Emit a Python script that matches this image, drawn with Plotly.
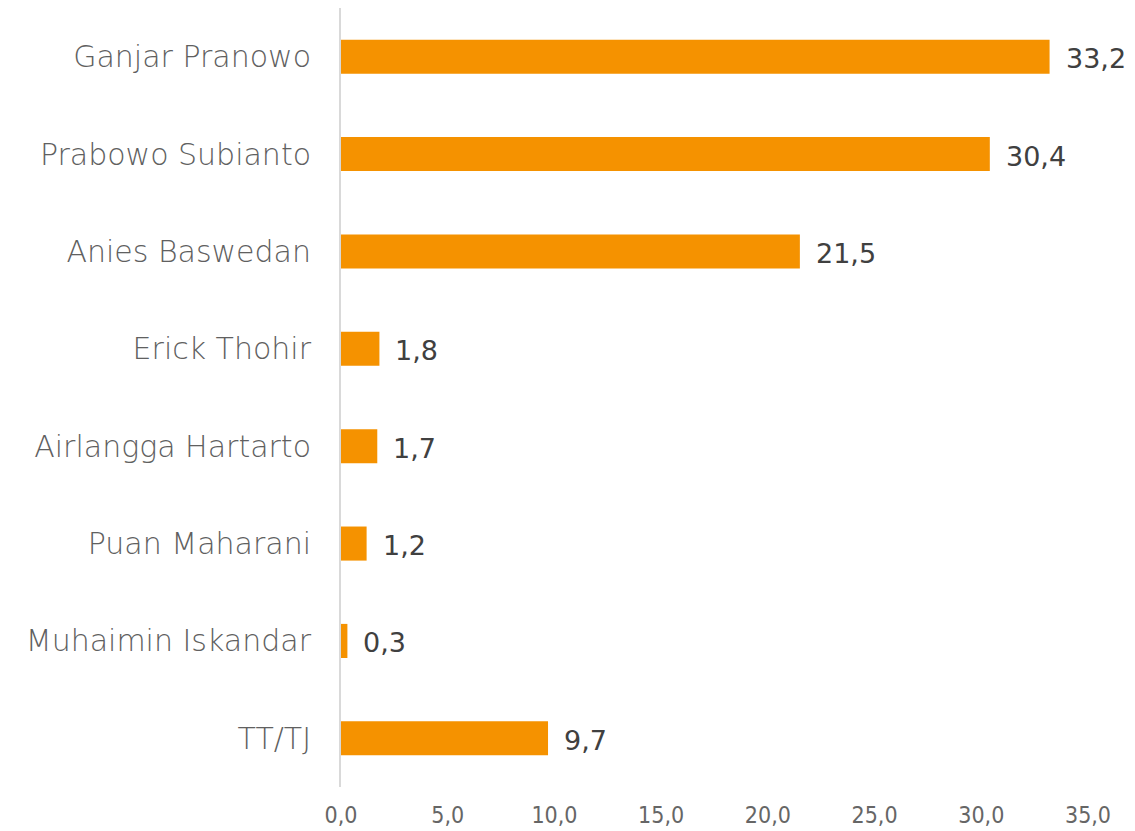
import plotly.graph_objects as go

# Survey result per candidate (percent)
candidates = [
    "Ganjar Pranowo",
    "Prabowo Subianto",
    "Anies Baswedan",
    "Erick Thohir",
    "Airlangga Hartarto",
    "Puan Maharani",
    "Muhaimin Iskandar",
    "TT/TJ",
]
values = [33.2, 30.4, 21.5, 1.8, 1.7, 1.2, 0.3, 9.7]
x_ticks = [0, 5, 10, 15, 20, 25, 30, 35]

BAR_COLOR = "#F59200"
LABEL_FONT = "'DejaVu Sans', Lato, sans-serif"

fig = go.Figure(
    go.Bar(
        x=values,
        y=candidates,
        orientation="h",
        width=0.35,
        marker=dict(color=BAR_COLOR, line=dict(width=0)),
        hoverinfo="skip",
    )
)

# value labels to the right of each bar
for name, v in zip(candidates, values):
    fig.add_annotation(
        x=v,
        y=name,
        text=f"{v:.1f}".replace(".", ","),
        showarrow=False,
        xanchor="left",
        yanchor="middle",
        xshift=14,
        yshift=-2,
        font=dict(family=LABEL_FONT, size=27, color="#404040"),
    )

fig.update_layout(
    width=1135,
    height=831,
    margin=dict(l=341, r=47, t=8, b=44),
    paper_bgcolor="white",
    plot_bgcolor="white",
    separators=",.",
    showlegend=False,
    xaxis=dict(
        range=[0, 35],
        tickvals=x_ticks,
        tickformat=".1f",
        showgrid=False,
        zeroline=False,
        showline=False,
        ticks="",
        automargin=False,
        tickfont=dict(family="'Liberation Sans Narrow', 'DejaVu Sans Condensed', sans-serif",
                      size=23, color="#666666", weight=300),
        ticklabelstandoff=12,
    ),
    yaxis=dict(
        categoryorder="array",
        categoryarray=candidates,
        autorange="reversed",
        showgrid=False,
        zeroline=False,
        showline=True,
        linecolor="#D9D9D9",
        linewidth=2,
        ticks="",
        automargin=False,
        ticklabelstandoff=22,
        tickfont=dict(family=LABEL_FONT, size=30, color="#606060", weight=300),
    ),
)

fig.write_html("out.html")
